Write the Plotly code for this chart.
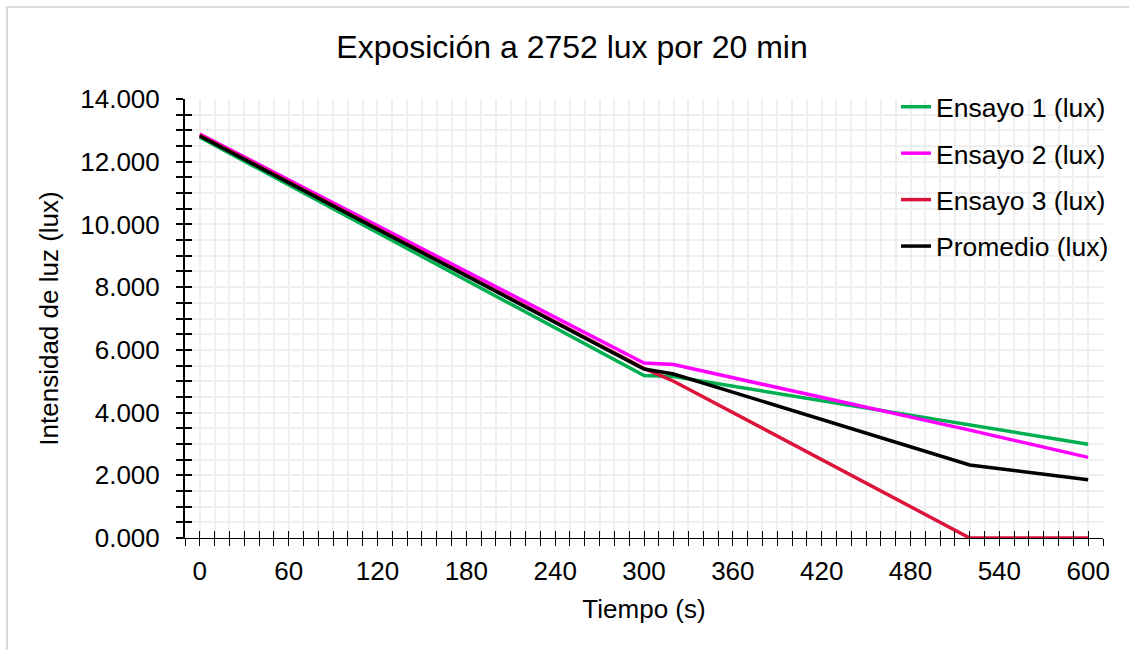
import plotly.graph_objects as go

# Light intensity measured during a 20 min exposure at 2752 lux
tiempo = [0, 300, 320, 520, 600]
ensayo1 = [12.78, 5.18, 5.15, 3.60, 2.99]
ensayo2 = [12.88, 5.58, 5.53, 3.44, 2.57]
ensayo3 = [12.85, 5.41, 5.00, 0.00, 0.00]
promedio = [12.82, 5.39, 5.23, 2.33, 1.86]

series = [
    ("Ensayo 1 (lux)", ensayo1, "#00B050"),
    ("Ensayo 2 (lux)", ensayo2, "#FF00FF"),
    ("Ensayo 3 (lux)", ensayo3, "#DC143C"),
    ("Promedio (lux)", promedio, "#000000"),
]

FONT = "Liberation Sans, Arial, sans-serif"
W, H = 1129, 650
ML, MR, MT, MB = 185, 26, 99, 112
PW, PH = W - ML - MR, H - MT - MB

fig = go.Figure()
for i, (name, vals, color) in enumerate(series):
    fig.add_trace(go.Scatter(
        x=tiempo, y=vals, name=name, mode="lines",
        line=dict(color=color, width=3.5),
        legendgroup=f"g{i}",
    ))

# empty trace that carries the overlay axes used for the inner half of the ticks
fig.add_trace(go.Scatter(x=[], y=[], xaxis="x2", yaxis="y2",
                         showlegend=False, hoverinfo="skip"))

XR = [-10, 610]
YR = [0, 14]
GRID = "#EFEFEF"

fig.update_layout(
    width=W, height=H,
    margin=dict(l=ML, r=MR, t=MT, b=MB),
    paper_bgcolor="white", plot_bgcolor="white",
    font=dict(family=FONT, size=26, color="#000"),
    title=dict(text="Exposición a 2752 lux por 20 min",
               x=572 / W, xref="container", xanchor="center",
               y=1 - 47 / H, yref="container", yanchor="middle",
               font=dict(family=FONT, size=32, color="#000")),
    xaxis=dict(
        range=XR, tickmode="linear", tick0=0, dtick=60,
        showgrid=True, gridcolor=GRID, gridwidth=2,
        ticks="outside", ticklen=7, tickwidth=1.2, tickcolor="#000",
        minor=dict(dtick=10, tick0=0, ticks="outside", ticklen=7,
                   tickwidth=1.2, tickcolor="#000",
                   showgrid=True, gridcolor=GRID, gridwidth=2),
        showline=True, linecolor="#000", linewidth=1.2,
        zeroline=False, ticklabelstandoff=3,
        tickfont=dict(size=26),
        title=dict(text="Tiempo (s)", font=dict(size=26), standoff=14),
    ),
    yaxis=dict(
        range=YR, tickmode="linear", tick0=0, dtick=2, tickformat=".3f",
        showgrid=True, gridcolor=GRID, gridwidth=2,
        ticks="outside", ticklen=7, tickwidth=1.5, tickcolor="#000",
        minor=dict(dtick=0.5, tick0=0, ticks="outside", ticklen=7,
                   tickwidth=1.5, tickcolor="#000",
                   showgrid=True, gridcolor=GRID, gridwidth=2),
        showline=True, linecolor="#000", linewidth=2,
        zeroline=False, ticklabelstandoff=11,
        tickfont=dict(size=26),
        title=dict(text="Intensidad de luz (lux)", font=dict(size=26), standoff=14),
    ),
    xaxis2=dict(
        range=XR, overlaying="x", anchor="y2", side="bottom",
        tickmode="linear", tick0=0, dtick=10,
        ticks="inside", ticklen=7, tickwidth=1.2, tickcolor="#000",
        showticklabels=False, showgrid=False, zeroline=False, showline=False,
    ),
    yaxis2=dict(
        range=YR, overlaying="y", anchor="x2", side="left",
        tickmode="linear", tick0=0, dtick=0.5,
        ticks="inside", ticklen=7, tickwidth=1.5, tickcolor="#000",
        showticklabels=False, showgrid=False, zeroline=False, showline=False,
    ),
    legend=dict(
        x=(896 - ML) / PW, xanchor="left",
        y=(H - MB - 83) / PH, yanchor="top",
        bgcolor="rgba(0,0,0,0)", borderwidth=0,
        font=dict(family=FONT, size=26.5, color="#000"),
        traceorder="grouped", tracegroupgap=9,
    ),
    showlegend=True,
)

# outer chart frame
fig.add_shape(
    type="rect", xref="paper", yref="paper",
    x0=(7 - ML) / PW, x1=(1140 - ML) / PW,
    y0=(H - MB - 660) / PH, y1=(H - MB - 7) / PH,
    line=dict(color="#D9D9D9", width=2), fillcolor="rgba(0,0,0,0)",
    layer="below",
)

fig.write_html("out.html")
